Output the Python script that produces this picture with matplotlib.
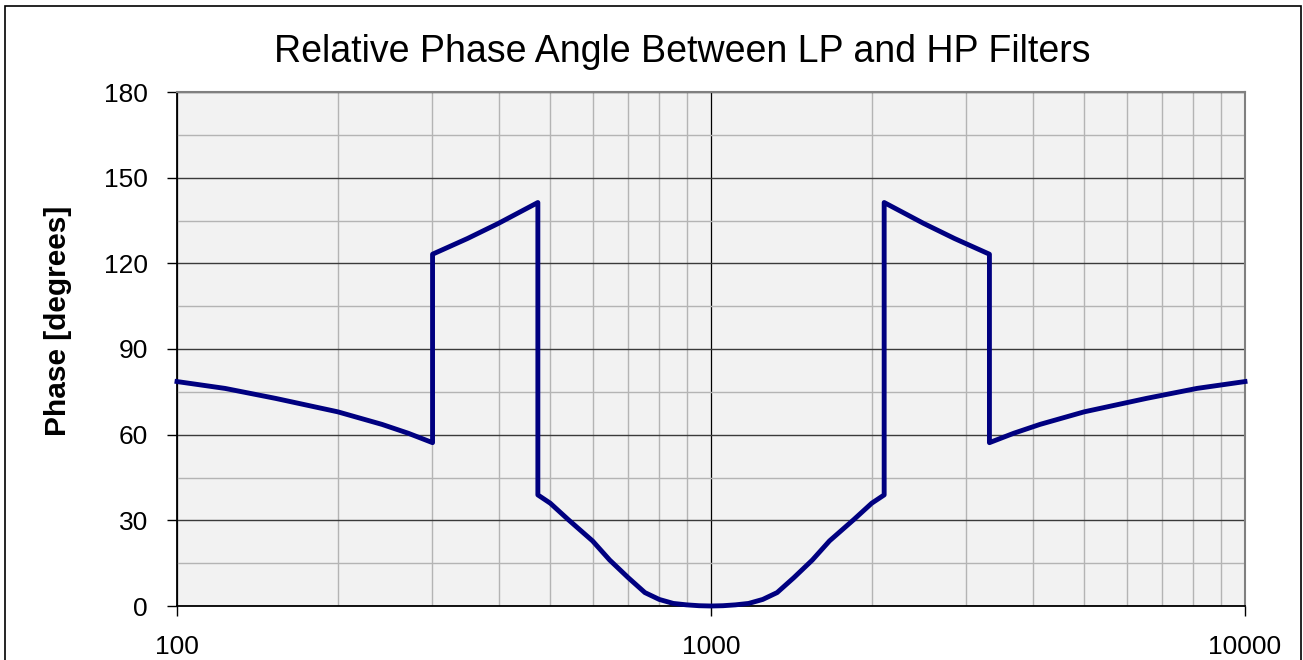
import matplotlib.pyplot as plt
from matplotlib.patches import Rectangle
from matplotlib.ticker import LogLocator, MultipleLocator, NullFormatter, FixedLocator

plt.rcParams["font.family"] = ["Liberation Sans", "DejaVu Sans"]

# values (frequency in Hz, phase in degrees)
freq_hz = [
    100, 123, 153, 200, 242, 271, 301,
    301, 350, 400, 474,
    474, 500, 540, 600, 646, 700, 752, 800, 850, 900, 950, 1000,
    1053, 1111, 1176, 1250, 1330, 1429, 1548, 1667, 1852, 2000, 2110,
    2110, 2500, 2857, 3322,
    3322, 3690, 4132, 5000, 6536, 8130, 10000,
]
phase_deg = [
    78.6, 76.2, 72.7, 68.0, 63.6, 60.5, 57.2,
    123.2, 128.7, 134.0, 141.3,
    38.9, 36.0, 30.3, 22.8, 16.1, 9.9, 4.7, 2.3, 0.9, 0.4, 0.1, 0.0,
    0.1, 0.4, 0.9, 2.3, 4.7, 9.9, 16.1, 22.8, 30.3, 36.0, 38.9,
    141.3, 134.0, 128.7, 123.2,
    57.2, 60.5, 63.6, 68.0, 72.7, 76.2, 78.6,
]
y_ticks = [0, 30, 60, 90, 120, 150, 180]
x_ticks = [100, 1000, 10000]
x_tick_labels = ["100", "1000", "10000"]

W, H = 1303, 660
fig = plt.figure(figsize=(W / 100, H / 100), dpi=100)
fig.patch.set_facecolor("white")
ax = fig.add_axes([177 / W, 1 - 606 / H, (1245 - 177) / W, (606 - 92) / H])
ax.set_facecolor("#f2f2f2")

ax.plot(freq_hz, phase_deg, color="#000080", lw=3.5, zorder=3,
        solid_joinstyle="round", clip_on=False)

ax.set_xscale("log")
ax.set_xlim(100, 10000)
ax.set_ylim(0, 180)
ax.xaxis.set_major_locator(FixedLocator(x_ticks))
ax.set_xticklabels(x_tick_labels)
ax.xaxis.set_minor_locator(LogLocator(base=10, subs=range(2, 10)))
ax.xaxis.set_minor_formatter(NullFormatter())
ax.set_yticks(y_ticks)
ax.yaxis.set_minor_locator(MultipleLocator(15))

ax.grid(True, which="major", axis="y", color="#3a3a3a", lw=1.0, zorder=1)
ax.grid(True, which="major", axis="x", color="#000000", lw=0.9, zorder=1)
ax.grid(True, which="minor", color="#b4b4b4", lw=1.0, zorder=0)

ax.tick_params(axis="both", which="major", direction="out", length=7, width=1,
               color="#000000", labelsize=19, pad=14)
ax.tick_params(axis="both", which="minor", length=0)

for side in ("left", "bottom"):
    ax.spines[side].set_color("#000000")
    ax.spines[side].set_linewidth(1.3)
for side in ("top", "right"):
    ax.spines[side].set_color("#808080")
    ax.spines[side].set_linewidth(1.5)

fig.text(682 / W, 1 - 52 / H, "Relative Phase Angle Between LP and HP Filters",
         ha="center", va="center", fontsize=27)
fig.text(58 / W, 1 - 321 / H, "Phase [degrees]", rotation=90, ha="center",
         va="center", fontsize=21.5, fontweight="bold")

# outer chart border
fig.patches.append(Rectangle((5 / W, -0.05), 1296 / W, 1 - 6 / H + 0.05,
                             transform=fig.transFigure, fill=False,
                             edgecolor="#000000", lw=1.2))

fig.savefig("out.png", dpi=100)
